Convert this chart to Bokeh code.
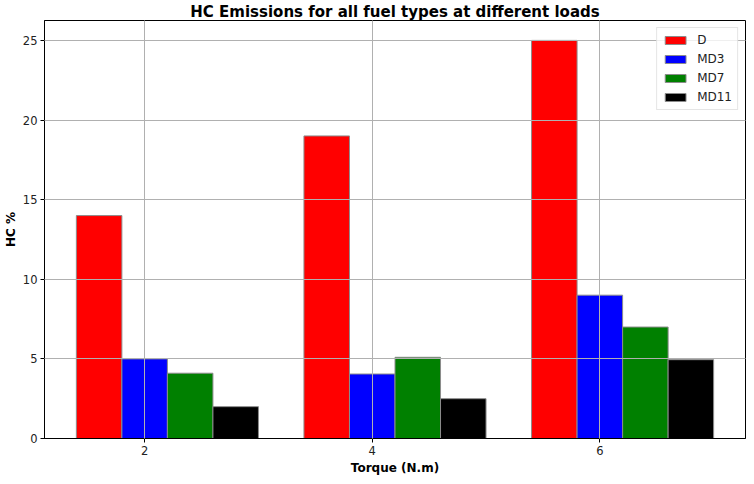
from bokeh.plotting import figure
from bokeh.models import ColumnDataSource, Range1d, FixedTicker, Legend, LegendItem
from bokeh.transform import dodge
from bokeh.embed import file_html
from bokeh.resources import INLINE

torque = [2, 4, 6]
D = [14, 19, 25]
MD3 = [5, 4.05, 9]
MD7 = [4.1, 5.1, 7]
MD11 = [2, 2.5, 4.95]
series = ["D", "MD3", "MD7", "MD11"]
colors = ["red", "blue", "green", "black"]
x_ticks = [2, 4, 6]
y_ticks = [0, 5, 10, 15, 20, 25]

src = ColumnDataSource(dict(torque=torque, D=D, MD3=MD3, MD7=MD7, MD11=MD11))

FONT = "DejaVu Sans"
p = figure(frame_width=701, frame_height=418, x_range=Range1d(1.12, 7.28), y_range=Range1d(0, 26.25),
           output_backend="svg", toolbar_location=None,
           min_border_left=36, min_border_right=1, min_border_top=0, min_border_bottom=30)

p.title.text = "HC Emissions for all fuel types at different loads"
p.title.text_font = FONT
p.title.text_font_size = "15px"
p.title.text_font_style = "bold"
p.title.text_color = "black"
p.title.align = "center"
p.title.standoff = 0
p.title.offset = 0

offsets = [-0.4, 0.0, 0.4, 0.8]
items = []
for name, col, off in zip(series, colors, offsets):
    r = p.vbar(x=dodge("torque", off, range=p.x_range), top=name, width=0.4, bottom=0,
               source=src, fill_color=col, line_color="#8c8c8c", line_width=1)
    items.append(LegendItem(label=name, renderers=[r]))

legend = Legend(items=items, location="top_right")
legend.label_text_font = FONT
legend.label_text_font_size = "12px"
legend.label_text_color = "#222222"
legend.glyph_width = 26
legend.glyph_height = 10
legend.label_height = 14
legend.spacing = 5
legend.padding = 5
legend.margin = 7
legend.label_standoff = 9
legend.border_line_color = "#cccccc"
legend.border_line_width = 1
legend.background_fill_alpha = 0.8
p.add_layout(legend)

for ax in (p.xaxis, p.yaxis):
    ax.major_label_text_font = FONT
    ax.major_label_text_font_size = "11.5px"
    ax.major_label_text_color = "#222222"
    ax.axis_label_text_font = FONT
    ax.axis_label_text_font_size = "12px"
    ax.axis_label_text_font_style = "bold"
    ax.axis_label_text_color = "black"
    ax.minor_tick_line_color = None
    ax.major_tick_in = 0
    ax.major_tick_out = 4
    ax.major_tick_line_color = "black"
    ax.axis_line_color = "black"
    ax.major_label_standoff = 3
    ax.axis_label_standoff = 3

p.xaxis.axis_label = "Torque (N.m)"
p.yaxis.axis_label = "HC %"
p.yaxis.axis_label_standoff = 2
p.xaxis.ticker = FixedTicker(ticks=x_ticks)
p.yaxis.ticker = FixedTicker(ticks=y_ticks)
p.xgrid.ticker = FixedTicker(ticks=x_ticks)
p.ygrid.ticker = FixedTicker(ticks=y_ticks)
p.grid.grid_line_color = "#b0b0b0"
p.grid.grid_line_width = 1
p.grid.level = "guide"
p.outline_line_color = "black"
p.outline_line_width = 1
p.background_fill_color = "white"

open("out.html", "w").write(file_html(p, INLINE))
